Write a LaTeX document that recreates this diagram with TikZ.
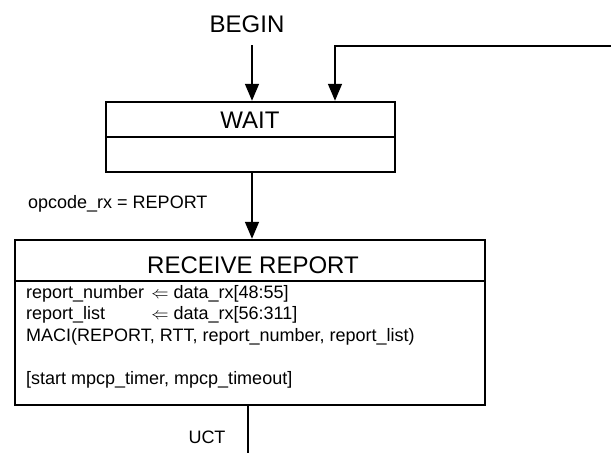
\documentclass[tikz,border=0pt]{standalone}
\usepackage{fontspec}
\setmainfont{Liberation Sans}
\usetikzlibrary{arrows.meta}
\begin{document}
\begin{tikzpicture}[x=1pt,y=-1pt,
  box/.style={draw, line width=2.5pt, inner sep=0pt},
  divider/.style={line width=2.5pt},
  conn/.style={line width=1.6pt, -{Triangle[length=17pt,width=14pt]}},
  plain/.style={line width=1.6pt},
  big/.style={font=\fontsize{24}{28}\selectfont, inner sep=0pt},
  txt/.style={font=\fontsize{18}{21.7}\selectfont, inner sep=0pt}]
\useasboundingbox (0,0) rectangle (611,453);
% BEGIN
\node[big, anchor=base] (begin) at (247,32) {BEGIN};
\coordinate (b1) at (252,45);
% WAIT state
\node[box, minimum width=289pt, minimum height=70pt] (wait) at (250.5,137) {};
\node[big, anchor=base] (waitt) at (250,128) {WAIT};
\draw[divider] ([yshift=-36pt]wait.north west) -- ([yshift=-36pt]wait.north east);
\draw[conn] (b1) -- (b1 |- wait.north);
% feedback
\coordinate (fb) at (611,46);
\coordinate (fbin) at (335,0);
\draw[conn] (fb) -| (fbin |- wait.north);
% RECEIVE REPORT state
\node[box, minimum width=470pt, minimum height=165pt] (rr) at (250,322.5) {};
\node[big, anchor=base] (rrt) at (253,273) {RECEIVE REPORT};
\draw[divider] ([yshift=-42pt]rr.north west) -- ([yshift=-42pt]rr.north east);
\coordinate (a3) at (252,0);
\draw[conn] (a3 |- wait.south) -- (a3 |- rr.north);
\node[txt, anchor=base west] (lbl) at (28,208) {opcode\_rx = REPORT};
\node[txt, anchor=base west] (body) at (26,298) {\begin{tabular}[t]{@{}l@{\hspace{7pt}}l@{}}
report\_number & $\Leftarrow$\ data\_rx[48:55]\\
report\_list & $\Leftarrow$\ data\_rx[56:311]\\
\multicolumn{2}{@{}l@{}}{MACI(REPORT, RTT, report\_number, report\_list)}\\
\\
\multicolumn{2}{@{}l@{}}{[start mpcp\_timer, mpcp\_timeout]}
\end{tabular}};
% UCT
\coordinate (u) at (248,453);
\draw[plain] (u |- rr.south) -- (u);
\node[txt, anchor=base] (uct) at (207,443) {UCT};
\end{tikzpicture}
\end{document}
